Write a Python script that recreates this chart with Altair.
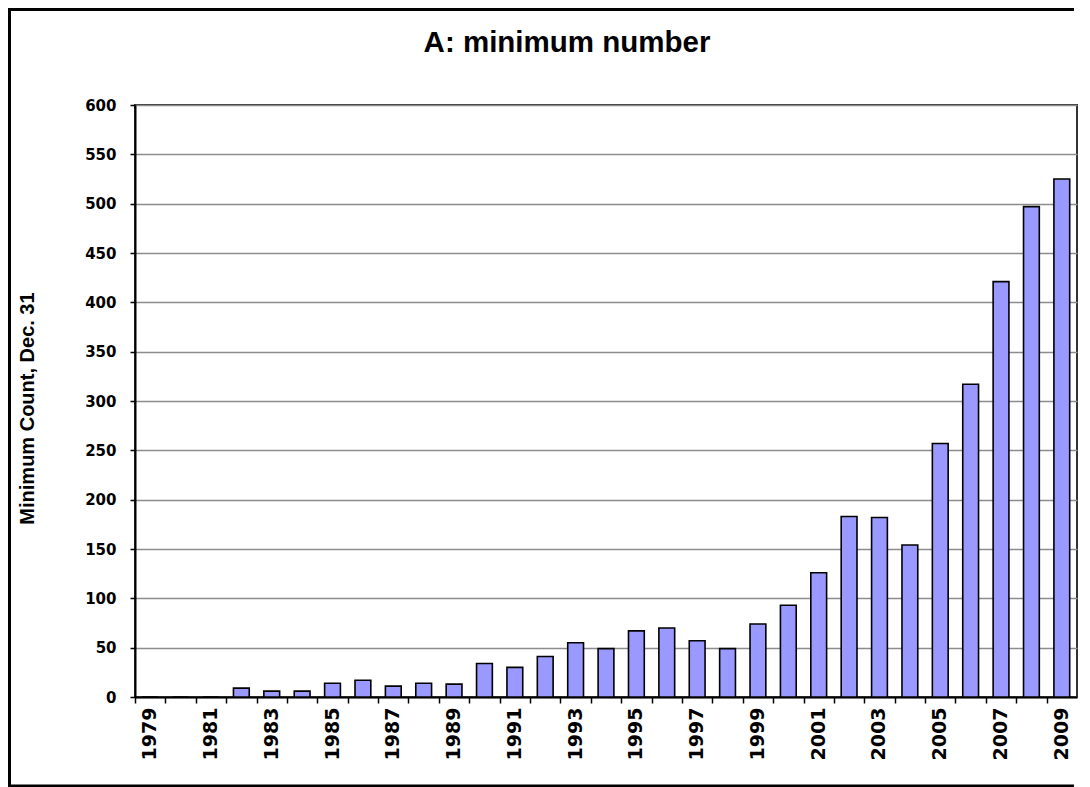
import altair as alt
import pandas as pd

years = [str(y) for y in range(1979, 2010)]
counts = [0, 0, 0, 9, 6, 6, 14, 17, 11, 14, 13, 34, 30, 41, 55, 49, 67, 70, 57, 49,
          74, 93, 126, 183, 182, 154, 257, 317, 421, 497, 525]
y_ticks = list(range(0, 601, 50))
x_label_years = years[::2]

df = pd.DataFrame({"year": years, "count": counts})

W, H = 942, 592
PI, PO = 0.48, 0.24
step = W / (len(years) - PI + 2 * PO)

xscale = alt.Scale(paddingInner=PI, paddingOuter=PO)
yscale = alt.Scale(domain=[0, 600], nice=False)

bars = alt.Chart(df).mark_bar(
    color="#9999FF", stroke="black", strokeWidth=1.6
).encode(
    x=alt.X("year:N", sort=years, scale=xscale,
            axis=alt.Axis(orient="bottom", labels=False, title=None, grid=False,
                          ticks=True, tickSize=6, tickWidth=1.5, tickColor="black",
                          bandPosition=0, tickOffset=-PO * step,
                          domain=True, domainColor="black", domainWidth=2)),
    y=alt.Y("count:Q", scale=yscale,
            axis=alt.Axis(values=y_ticks, title="Minimum Count, Dec. 31",
                          titleFont="Liberation Sans", titleFontSize=20, titleFontWeight="bold",
                          titleColor="black", titleAngle=-90, titleBaseline="middle",
                          titleAlign="center", titleX=-108, titleY=303,
                          labelFont="DejaVu Sans", labelFontSize=15, labelFontWeight="bold",
                          labelColor="black", labelPadding=14,
                          tickSize=5, tickWidth=1.5, tickColor="black",
                          domainColor="black", domainWidth=2,
                          grid=True, gridColor="#8c8c8c", gridWidth=1.5)),
)

labels = alt.Chart(df).mark_bar(opacity=0).encode(
    x=alt.X("year:N", sort=years, scale=xscale,
            axis=alt.Axis(orient="bottom", values=x_label_years, labelAngle=-90,
                          labelFont="DejaVu Sans", labelFontSize=19, labelFontWeight="bold",
                          labelColor="black", labelPadding=10, tickSize=6, ticks=False,
                          domain=False, grid=False, title=None)),
)

one = alt.Data(values=[{"k": 1}])
frame_left = alt.Chart(one).mark_rule(color="black", strokeWidth=3).encode(
    x=alt.value(-125.5), y=alt.value(-97), y2=alt.value(682))
frame_top = alt.Chart(one).mark_rule(color="black", strokeWidth=3).encode(
    x=alt.value(-127), x2=alt.value(939), y=alt.value(-95.5))
frame_bottom = alt.Chart(one).mark_rule(color="black", strokeWidth=3).encode(
    x=alt.value(-127), x2=alt.value(939), y=alt.value(681))

chart = alt.layer(bars, labels, frame_left, frame_top, frame_bottom).resolve_axis(
    x="independent"
).properties(
    width=W, height=H,
    title=alt.TitleParams("A: minimum number", font="Liberation Sans", fontSize=29.5,
                          fontWeight="bold", color="black", anchor="middle",
                          dx=-39, offset=-52),
    autosize=alt.AutoSizeParams(type="none"),
    padding={"left": 127, "top": 97, "right": 5, "bottom": 90},
    background="white",
).configure_view(
    stroke="#333333", strokeWidth=2
)

chart.save("out.html", embed_options={"renderer": "svg", "actions": False})
